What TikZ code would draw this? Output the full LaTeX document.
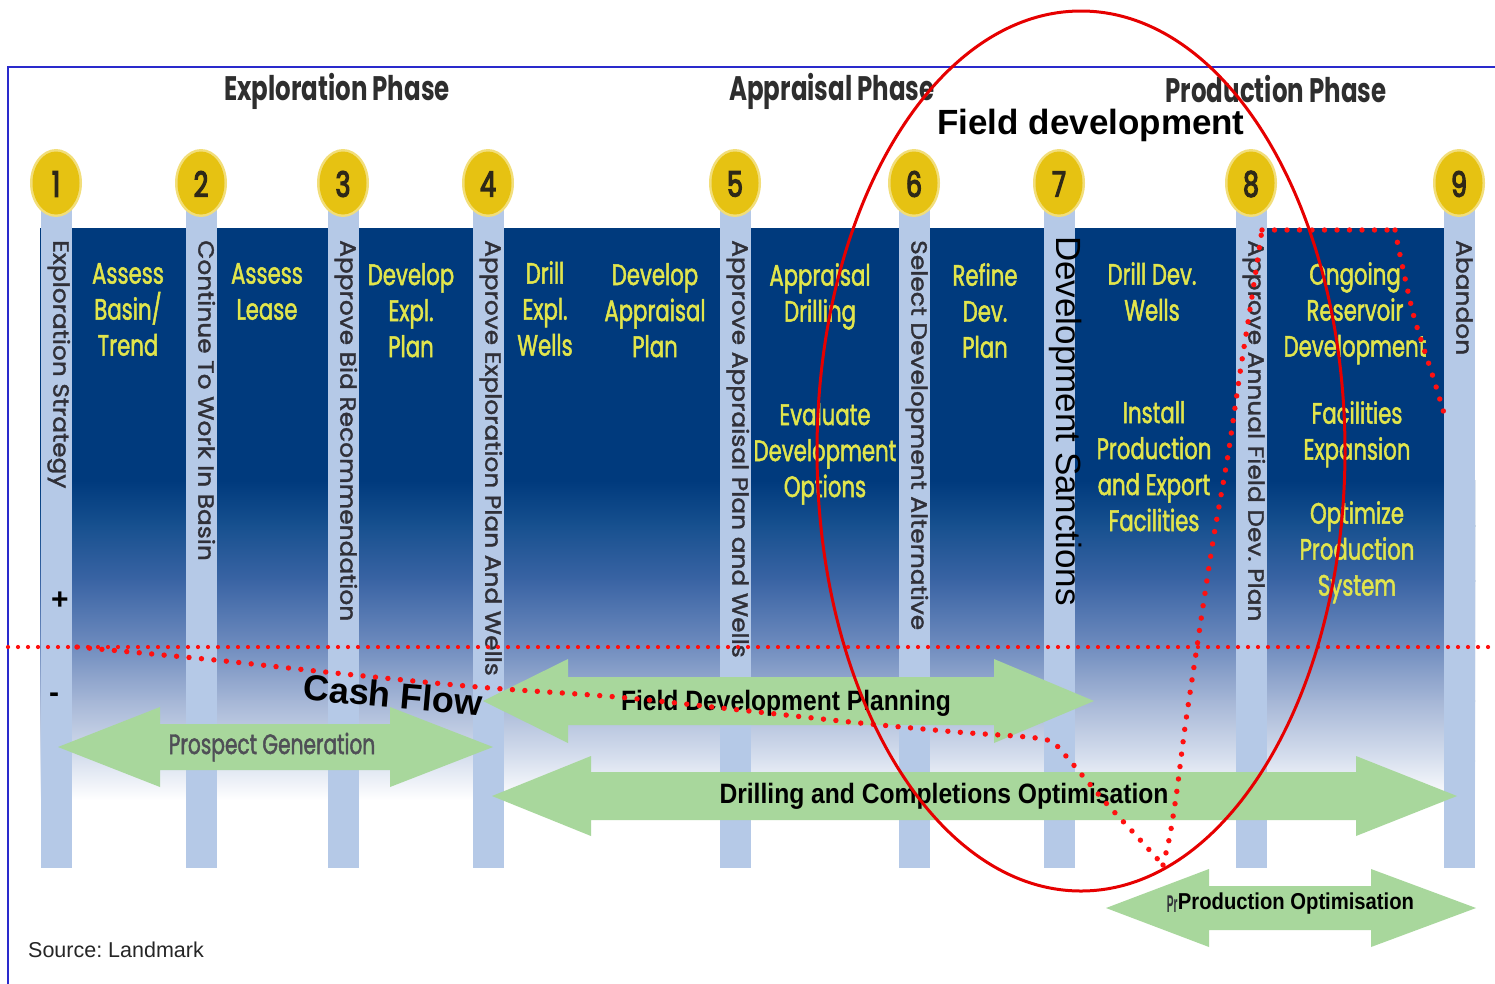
\documentclass[tikz,border=0pt]{standalone}
\usepackage{fontspec}
\setmainfont{Liberation Sans}
\newfontfamily\gothic[FakeStretch=0.72]{Poppins}
\newfontfamily\gothicm[FakeStretch=0.72, FakeBold=1.6]{Poppins}
\newfontfamily\gothicn[FakeStretch=0.72, FakeBold=3.5]{Poppins}
\newfontfamily\gothicv[FakeStretch=1.13, FakeBold=1.6]{Poppins}
\newfontfamily\narrowsans[FakeStretch=0.88]{Liberation Sans}

\definecolor{navy}{HTML}{003A7D}
\definecolor{bandA}{HTML}{17508F}
\definecolor{bandB}{HTML}{3A64A4}
\definecolor{bandC}{HTML}{6A88BC}
\definecolor{bandD}{HTML}{A5B6D6}
\definecolor{bandE}{HTML}{D9E1EF}
\definecolor{barblue}{HTML}{B5C9E7}
\definecolor{gold}{HTML}{E6C212}
\definecolor{goldsoft}{HTML}{F2DE7A}
\definecolor{numcol}{HTML}{2E2818}
\definecolor{yellowtext}{HTML}{E2E54C}
\definecolor{bartextgray}{HTML}{303038}
\definecolor{arrowgreen}{HTML}{A8D79C}
\definecolor{frameblue}{HTML}{2A2ACC}
\definecolor{dotred}{HTML}{FF1010}
\definecolor{ringred}{HTML}{E60000}
\definecolor{titlegray}{HTML}{2E2E2E}

% double-headed block arrow:
% #1 left tip x, #2 right tip x, #3 centre y, #4 half shaft, #5 half head, #6 left head length, #7 right head length
\newcommand\greenarrow[7]{%
  \fill[arrowgreen] (#1,#3) -- (#1+#6,#3-#5) -- (#1+#6,#3-#4) -- (#2-#7,#3-#4)
    -- (#2-#7,#3-#5) -- (#2,#3) -- (#2-#7,#3+#5) -- (#2-#7,#3+#4)
    -- (#1+#6,#3+#4) -- (#1+#6,#3+#5) -- cycle;}

\begin{document}
\frenchspacing
\begin{tikzpicture}[x=1pt,y=-1pt,
  bartext/.style={rotate=-90, anchor=mid west, inner sep=0pt, text=bartextgray,
    font=\gothicv\fontsize{22}{22}\selectfont},
  paneltext/.style={anchor=north, inner sep=0pt, align=center, text=yellowtext,
    font=\gothicm\fontsize{29.5}{36}\selectfont},
  numtext/.style={inner sep=0pt, text=numcol, font=\gothicn\fontsize{35}{35}\selectfont},
  phasetext/.style={inner sep=0pt, text=titlegray, font=\gothic\bfseries\fontsize{34}{34}\selectfont},
  arrowtext/.style={inner sep=0pt, font=\narrowsans\bfseries\fontsize{28}{28}\selectfont},
  reddots/.style={dotred, line width=4.2pt, line cap=round, dash pattern=on 0pt off 10pt},
  cashdots/.style={dotred, line width=5.4pt, line cap=round, dash pattern=on 0pt off 12.5pt},
]
\useasboundingbox (0,0) rectangle (1495,983);
\clip (0,0) rectangle (1495,983);
\fill[white] (0,0) rectangle (1495,983);

% shaded background band behind the milestone posts
\fill[navy] (40,228) rectangle (1475,481);
\fill[top color=navy, bottom color=bandA] (40,480) rectangle (1475,526);
\fill[top color=bandA, bottom color=bandB] (40,525) rectangle (1475,581);
\fill[top color=bandB, bottom color=bandC] (40,580) rectangle (1475,641);
\fill[top color=bandC, bottom color=bandD] (40,640) rectangle (1475,701);
\fill[top color=bandD, bottom color=bandE] (40,700) rectangle (1475,761);
\fill[top color=bandE, bottom color=white] (40,760) rectangle (1475,800);

% frame
\coordinate (fbl) at (8,1000);
\coordinate (ftl) at (8,67);
\coordinate (ftr) at (1510,67);
\draw[frameblue, line width=2pt] (fbl) -- (ftl) -- (ftr);

% milestone posts with numbered discs
\foreach \x [count=\i] in {56,201,343,488,735,914,1059,1251,1459} {
  \fill[barblue] (\x-15.5,205) rectangle (\x+15.5,868);
  \fill[goldsoft] (\x,183) ellipse [x radius=26pt, y radius=34pt];
  \fill[gold] (\x,183) ellipse [x radius=23.5pt, y radius=31.5pt];
  \node[numtext] (num\i) at (\x,184) {\i};
}

% phase headings
\node[phasetext] (ph1) at (337,91) {Exploration Phase};
\node[phasetext] (ph2) at (832,91) {Appraisal Phase};
\node[phasetext] (ph3) at (1276,89) {Production Phase};

% labels on the posts
\node[bartext] (v1) at (56,240) {Exploration Strategy};
\node[bartext] (v2) at (201,240) {Continue To Work In Basin};
\node[bartext] (v3) at (343,240) {Approve Bid Recommendation};
\node[bartext] (v4) at (488,240) {Approve Exploration Plan And Wells};
\node[bartext] (v5) at (735,240) {Approve Appraisal Plan and Wells};
\node[bartext] (v6) at (914,240) {Select Development Alternative};
\node[bartext] (v8) at (1251,240) {Approve Annual Field Dev. Plan};
\node[bartext] (v9) at (1459,240) {Abandon};
\node[rotate=-90, anchor=mid west, inner sep=0pt, font=\fontsize{35}{35}\selectfont]
  (v7) at (1059,236) {Development Sanctions};

% activities between the posts
\node[paneltext] (p1) at (128,263) {Assess\\Basin/\\Trend};
\node[paneltext] (p2) at (267,263) {Assess\\Lease};
\node[paneltext] (p3) at (411,263) {Develop\\Expl.\\Plan};
\node[paneltext] (p4a) at (545,261) {Drill\\Expl.\\Wells};
\node[paneltext] (p4b) at (655,263) {Develop\\Appraisal\\Plan};
\node[paneltext] (p5a) at (820,263) {Appraisal\\Drilling};
\node[paneltext] (p5b) at (825,403) {Evaluate\\Development\\Options};
\node[paneltext] (p6) at (985,263) {Refine\\Dev.\\Plan};
\node[paneltext] (p7a) at (1152,262) {Drill Dev.\\Wells};
\node[paneltext] (p7b) at (1154,401) {Install\\Production\\and Export\\Facilities};
\node[paneltext] (p8a) at (1355,262) {Ongoing\\Reservoir\\Development};
\node[paneltext] (p8b) at (1357,401) {Facilities\\Expansion};
\node[paneltext] (p8c) at (1357,501) {Optimize\\Production\\System};

% cash flow sign marks
\node[inner sep=0pt, font=\bfseries\fontsize{30}{30}\selectfont] (plus) at (60,601) {+};
\node[inner sep=0pt, font=\bfseries\fontsize{30}{30}\selectfont] (minus) at (54,698) {-};

% activity arrows
\greenarrow{58}{493}{747}{23}{40}{102}{103}
\greenarrow{483}{1094}{701}{24}{42}{85}{100}
\greenarrow{492}{1457}{796}{24}{40}{99}{101}
\greenarrow{1106}{1476}{908}{22}{39}{103}{105}

\node[inner sep=0pt, text=bartextgray!85, font=\gothicm\fontsize{28}{28}\selectfont]
  (pg) at (272,747) {Prospect Generation};
\node[arrowtext] (fdp) at (786,703) {Field Development Planning};
\node[arrowtext] (dco) at (944,796) {Drilling and Completions Optimisation};
\node[arrowtext, font=\narrowsans\bfseries\fontsize{23}{23}\selectfont]
  (po) at (1296,904) {Production Optimisation};
\node[inner sep=0pt, anchor=east, text=bartextgray, font=\narrowsans\bfseries\fontsize{23}{23}\selectfont]
  (pr) at (po.west) {\scalebox{0.5}[1.05]{Pr}};

% zero line and cash flow curve
\coordinate (zl) at (8,647);
\coordinate (zr) at (1495,647);
\draw[reddots] (zl) -- (zr);
\draw[cashdots] plot[smooth, tension=0.55] coordinates {
  (77,647) (215,660) (335,673) (478,687) (617,697) (740,710) (860,723)
  (957,732) (1043,739) (1062,752) (1082,775) (1106,803) (1132,831) (1163,865)};
\draw[cashdots] plot[smooth, tension=0.4] coordinates {
  (1163,865) (1170,835) (1177,790) (1185,727) (1195,660) (1205,593)
  (1214,535) (1228,455) (1240,373) (1251,303) (1262,230)};
\draw[cashdots] plot[smooth, tension=0.4] coordinates {
  (1262,230) (1330,230) (1395,230)};
\draw[cashdots] plot[smooth, tension=0.4] coordinates {
  (1395,230) (1400,255) (1414,317) (1434,380) (1446,420)};

\node[inner sep=0pt, rotate=-5, font=\bfseries\fontsize{36}{36}\selectfont]
  (cash) at (393,695) {Cash Flow};

% field development highlight
\draw[ringred, line width=3pt] (1081,451) ellipse [x radius=264pt, y radius=440pt];
\node[inner sep=0pt, font=\bfseries\fontsize{35}{35}\selectfont] (fd) at (1091,125) {Field development};

\node[inner sep=0pt, anchor=west, text=black!85, font=\fontsize{21.5}{21.5}\selectfont]
  (src) at (28,950) {Source: Landmark};
\end{tikzpicture}
\end{document}
